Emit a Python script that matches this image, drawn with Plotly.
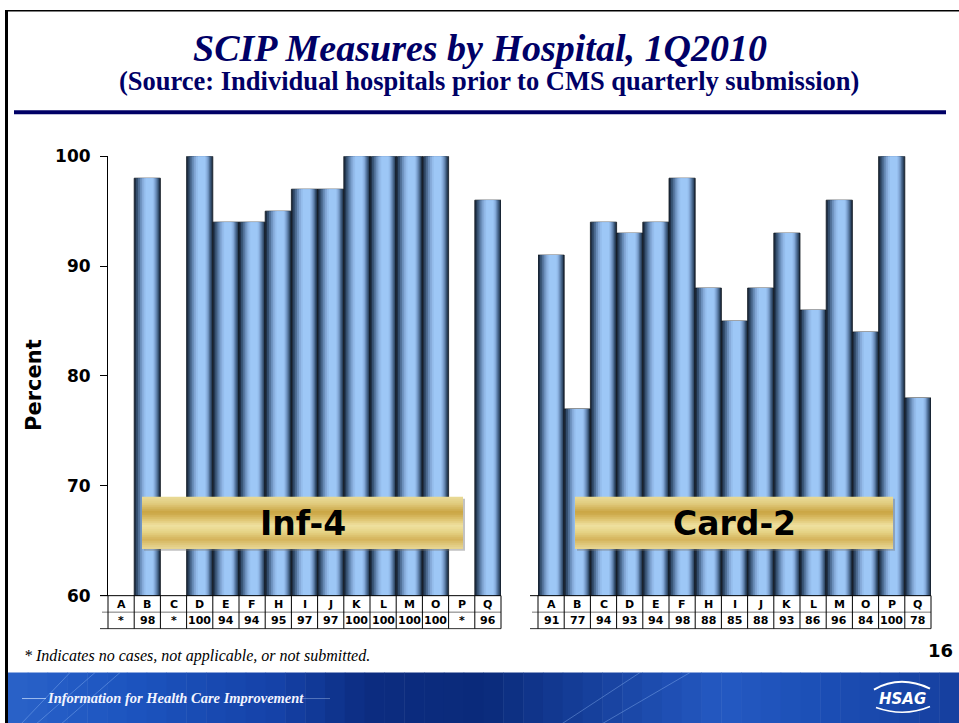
import plotly.graph_objects as go

# ---------------- data ----------------
hospitals = ["A", "B", "C", "D", "E", "F", "H", "I", "J", "K", "L", "M", "O", "P", "Q"]
inf4_values = [None, 98, None, 100, 94, 94, 95, 97, 97, 100, 100, 100, 100, None, 96]
card2_values = [91, 77, 94, 93, 94, 98, 88, 85, 88, 93, 86, 96, 84, 100, 78]
y_ticks = [60, 70, 80, 90, 100]
title_text = "SCIP Measures by Hospital, 1Q2010"
subtitle_text = "(Source: Individual hospitals prior to CMS quarterly submission)"
panel_labels = ["Inf-4", "Card-2"]
footnote_text = "* Indicates no cases, not applicable, or not submitted."
banner_text = "Information for Health Care Improvement"
page_number = "16"

W, H = 959, 735
SANS = "DejaVu Sans, Arial"
SERIF = "Liberation Serif, Times New Roman"
# vertical calibration of the rendered page
Y_SCALE, Y_OFF = 0.974, 8.6


def px(x):
    return x / W


def py(y):
    yl = (y - Y_OFF) / Y_SCALE
    return min(1.0, max(0.0, 1 - yl / H))


def hex2rgb(h):
    h = h.lstrip("#")
    return tuple(int(h[i:i + 2], 16) for i in (0, 2, 4))


def lerp_color(stops, t):
    for (t0, c0), (t1, c1) in zip(stops, stops[1:]):
        if t0 <= t <= t1:
            f = 0 if t1 == t0 else (t - t0) / (t1 - t0)
            a, b = hex2rgb(c0), hex2rgb(c1)
            r = [round(a[i] + (b[i] - a[i]) * f) for i in range(3)]
            return "rgb(%d,%d,%d)" % tuple(r)
    return stops[-1][1]


annotations = []
shapes = []


def note(text, x, y, font, xref="paper", xanchor="center", yanchor="middle", **kw):
    d = dict(text=text, x=x, y=y, xref=xref, yref="paper", xanchor=xanchor,
             yanchor=yanchor, showarrow=False, font=font)
    d.update(kw)
    annotations.append(d)


LEFT_DOM = [px(108), px(501)]
RIGHT_DOM = [px(538), px(931)]
Y_DOM = [py(595), py(155)]

fig = go.Figure()

# gradient bars via overlaid bars of decreasing width
layers = [
    (1.00, "#1f2f45"),
    (0.88, "#35506f"),
    (0.76, "#506f96"),
    (0.64, "#6b8fbb"),
    (0.52, "#84a9d8"),
    (0.40, "#94bceb"),
    (0.28, "#9dc7f6"),
]
for axis_x, axis_y, vals in (("x", "y", inf4_values), ("x2", "y2", card2_values)):
    for i, (w, col) in enumerate(layers):
        shift = 0.012 * i
        fig.add_trace(go.Bar(
            x=hospitals, y=vals, width=w, offset=-w / 2 + shift,
            marker=dict(color=col,
                        line=dict(color="#101820", width=0.8) if i == 0 else dict(width=0)),
            xaxis=axis_x, yaxis=axis_y, hoverinfo="skip", showlegend=False,
        ))

fig.update_layout(
    width=W, height=H,
    margin=dict(l=0, r=0, t=0, b=0),
    paper_bgcolor="white", plot_bgcolor="rgba(0,0,0,0)",
    barmode="overlay",
    showlegend=False,
    xaxis=dict(domain=LEFT_DOM, range=[-0.5, 14.5], showticklabels=False,
               showgrid=False, zeroline=False, showline=False, ticks=""),
    xaxis2=dict(domain=RIGHT_DOM, range=[-0.5, 14.5], showticklabels=False,
                showgrid=False, zeroline=False, showline=False, ticks="", anchor="y2"),
    yaxis=dict(domain=Y_DOM, range=[60, 100], tickvals=y_ticks,
               showgrid=False, zeroline=False, showline=True, linecolor="black", linewidth=1,
               ticks="outside", ticklen=7, tickcolor="black", ticklabelstandoff=6,
               tickfont=dict(family=SANS, size=17, color="black", weight="bold")),
    yaxis2=dict(domain=Y_DOM, range=[60, 100], anchor="x2", showticklabels=False,
                showgrid=False, zeroline=False, showline=False, ticks=""),
)

# ---------------- table under each chart ----------------
row_top, row_mid, row_bot = 595, 611.5, 628
for xref, dom, vals in (("x", LEFT_DOM, inf4_values), ("x2", RIGHT_DOM, card2_values)):
    dref = xref + " domain"
    n = len(hospitals)
    shapes.append(dict(type="line", xref="paper", yref="paper",
                       x0=dom[0] - px(8), x1=dom[1], y0=py(row_top), y1=py(row_top),
                       line=dict(color="black", width=1)))
    shapes.append(dict(type="line", xref="paper", yref="paper",
                       x0=dom[0] - px(6), x1=dom[1], y0=py(row_mid), y1=py(row_mid),
                       line=dict(color="#777777", width=1)))
    shapes.append(dict(type="line", xref="paper", yref="paper",
                       x0=dom[0] - px(8), x1=dom[1], y0=py(row_bot), y1=py(row_bot),
                       line=dict(color="#333333", width=1)))
    for k in range(n + 1):
        shapes.append(dict(type="line", xref=dref, yref="paper",
                           x0=k / n, x1=k / n, y0=py(row_top), y1=py(row_bot),
                           line=dict(color="black", width=1)))
    tfont = dict(family=SANS, size=11, color="black", weight="bold")
    for cat, v in zip(hospitals, vals):
        note(cat, cat, py((row_top + row_mid) / 2 + 0.5), tfont, xref=xref)
        note("*" if v is None else str(v), cat, py((row_mid + row_bot) / 2 + 0.5), tfont,
             xref=xref)

# ---------------- gold label boxes ----------------
gold_stops = [(0.0, "#e9db98"), (0.12, "#e2cd82"), (0.30, "#c9a442"), (0.42, "#dcc06a"),
              (0.55, "#efe1a0"), (0.68, "#e6d386"), (0.82, "#d4b35a"), (0.94, "#e2cd84"),
              (1.0, "#e8d896")]
box_top, box_bot = 496, 548
boxes = [(142, 463), (575, 893)]
for (bx0, bx1), label in zip(boxes, panel_labels):
    shapes.append(dict(type="rect", xref="paper", yref="paper",
                       x0=px(bx0 + 2), x1=px(bx1 + 2), y0=py(box_bot + 2), y1=py(box_top + 2),
                       fillcolor="rgba(120,120,120,0.45)", line=dict(width=0)))
    nstrip = 26
    for s in range(nstrip):
        t = (s + 0.5) / nstrip
        y0 = box_top + (box_bot - box_top) * s / nstrip
        y1 = box_top + (box_bot - box_top) * (s + 1) / nstrip
        shapes.append(dict(type="rect", xref="paper", yref="paper",
                           x0=px(bx0), x1=px(bx1), y0=py(y1 + 0.3), y1=py(y0),
                           fillcolor=lerp_color(gold_stops, t), line=dict(width=0)))
    note(label, px((bx0 + bx1) / 2), py(523),
         dict(family=SANS, size=33, color="black", weight="bold"))

# ---------------- title block ----------------
note(title_text, px(480), py(47),
     dict(family=SERIF, size=38, color="#000066", weight="bold", style="italic"))
note(subtitle_text, px(489), py(80),
     dict(family=SERIF, size=26.5, color="#000066", weight="bold"))
shapes.append(dict(type="rect", xref="paper", yref="paper", x0=px(14), x1=px(946),
                   y0=py(113), y1=py(109), fillcolor="#000066", line=dict(width=0)))

# slide frame
shapes.append(dict(type="rect", xref="paper", yref="paper", x0=px(5), x1=px(8),
                   y0=0, y1=1, fillcolor="black", line=dict(width=0)))
shapes.append(dict(type="rect", xref="paper", yref="paper", x0=px(5), x1=1,
                   y0=py(10), y1=1, fillcolor="black", line=dict(width=0)))

# y-axis title
note("Percent", px(34), py(384), dict(family=SANS, size=21, color="black", weight="bold"),
     textangle=-90)

# footnote and page number
note(footnote_text, px(22), py(655),
     dict(family=SERIF, size=16, color="black", style="italic"), xanchor="left")
note(page_number, px(955), py(650),
     dict(family=SANS, size=18, color="black", weight="bold"), xanchor="right")

# ---------------- banner ----------------
banner_stops = [(0.0, "#2a62c8"), (0.12, "#1d55c0"), (0.28, "#1542a8"), (0.38, "#0c2c80"),
                (0.5, "#0a2a7a"), (0.62, "#17419e"), (0.75, "#2459c2"), (0.85, "#1c4fb6"),
                (1.0, "#163f9e")]
nb = 48
bx_start, bx_end = 8, 959
for s in range(nb):
    t = (s + 0.5) / nb
    x0 = bx_start + (bx_end - bx_start) * s / nb
    x1 = bx_start + (bx_end - bx_start) * (s + 1) / nb
    shapes.append(dict(type="rect", xref="paper", yref="paper",
                       x0=px(x0), x1=px(x1 + 0.5), y0=0, y1=py(672),
                       fillcolor=lerp_color(banner_stops, t), line=dict(width=0)))
for xa, xb in ((20, 70), (35, 95), (60, 120), (560, 640), (600, 690)):
    shapes.append(dict(type="line", xref="paper", yref="paper", x0=px(xa), x1=px(xb),
                       y0=0, y1=py(672), line=dict(color="rgba(160,200,255,0.35)", width=1)))
shapes.append(dict(type="line", xref="paper", yref="paper", x0=px(22), x1=px(46),
                   y0=py(698), y1=py(698), line=dict(color="rgba(210,230,255,0.7)", width=1)))
shapes.append(dict(type="line", xref="paper", yref="paper", x0=px(300), x1=px(330),
                   y0=py(698), y1=py(698), line=dict(color="rgba(210,230,255,0.35)", width=1)))
note(banner_text, px(45), py(697),
     dict(family=SERIF, size=14.5, color="#f2f4ff", weight="bold", style="italic"),
     xanchor="left")
# HSAG logo
note("HSAG", px(902), py(698),
     dict(family=SANS, size=15, color="white", weight="bold", style="italic"))
shapes.append(dict(type="path", xref="paper", yref="paper",
                   path="M %f,%f Q %f,%f %f,%f" % (px(874), py(689), px(900), py(674),
                                                   px(930), py(688)),
                   line=dict(color="white", width=2)))
shapes.append(dict(type="path", xref="paper", yref="paper",
                   path="M %f,%f Q %f,%f %f,%f" % (px(876), py(707), px(904), py(717),
                                                   px(930), py(706)),
                   line=dict(color="white", width=1.5)))

fig.update_layout(shapes=shapes, annotations=annotations)
fig.write_html(
    "out.html",
    config={"displayModeBar": False},
    post_script="document.body.style.margin='0';document.body.style.overflow='hidden';",
)
